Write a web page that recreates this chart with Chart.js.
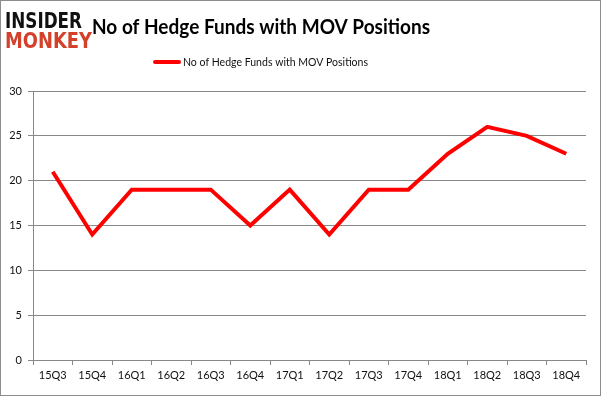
<!DOCTYPE html>
<html>
<head>
<meta charset="utf-8">
<script src="https://cdn.jsdelivr.net/npm/chart.js@4"></script>
<style>
  body { margin: 0; background: #fff; }
  canvas { display: block; }
</style>
</head>
<body>
<canvas id="chart" width="601" height="396"></canvas>
<script>
var quarters = ['15Q3', '15Q4', '16Q1', '16Q2', '16Q3', '16Q4', '17Q1', '17Q2', '17Q3', '17Q4', '18Q1', '18Q2', '18Q3', '18Q4'];
var hedgeFunds = [21, 14, 19, 19, 19, 15, 19, 14, 19, 19, 23, 26, 25, 23];
var yTicks = [0, 5, 10, 15, 20, 25, 30];

var seriesName = 'No of Hedge Funds with MOV Positions';
var fontName = 'Lato, "Open Sans", sans-serif';

// titre, logo, légende et cadre dessinés à la main
var decorations = {
    id: 'decorations',
    afterDraw: function (chart) {
        var ctx = chart.ctx;
        ctx.save();
        ctx.strokeStyle = '#8c8c8c';
        ctx.lineWidth = 1;
        ctx.strokeRect(0.5, 0.5, 600, 395);

        ctx.textBaseline = 'alphabetic';
        ctx.textAlign = 'left';
        ctx.fillStyle = '#111';
        ctx.font = 'bold 22px "DejaVu Sans Condensed", "DejaVu Sans", sans-serif';
        ctx.fillText('INSIDER', 5, 28, 77);
        ctx.fillStyle = '#d4412b';
        ctx.fillText('MONKEY', 5, 48, 87);

        ctx.fillStyle = '#000';
        ctx.font = 'bold 21px ' + fontName;
        ctx.fillText(chart.options.plugins.decorations.title, 92, 34, 338);

        var ds = chart.data.datasets[0];
        ctx.strokeStyle = ds.borderColor;
        ctx.lineWidth = 4;
        ctx.lineCap = 'round';
        ctx.beginPath();
        ctx.moveTo(155, 62);
        ctx.lineTo(179, 62);
        ctx.stroke();
        ctx.fillStyle = '#111';
        ctx.font = '11px ' + fontName;
        ctx.textBaseline = 'middle';
        ctx.fillText(ds.label, 183, 62, 185);
        ctx.restore();
    }
};

var chart = new Chart(document.getElementById('chart').getContext('2d'), {
    type: 'line',
    data: {
        labels: quarters,
        datasets: [{
            label: seriesName,
            data: hedgeFunds,
            borderColor: '#ff0000',
            backgroundColor: '#ff0000',
            borderWidth: 4,
            pointRadius: 0,
            tension: 0,
            fill: false
        }]
    },
    options: {
        responsive: false,
        animation: false,
        layout: { padding: { top: 91, right: 15, left: 0, bottom: 0 } },
        plugins: {
            legend: { display: false },
            title: { display: false },
            tooltip: { enabled: false },
            decorations: { title: seriesName }
        },
        scales: {
            x: {
                offset: true,
                grid: {
                    offset: true,
                    drawOnChartArea: false,
                    tickLength: 5,
                    color: '#888'
                },
                border: { color: '#888' },
                ticks: {
                    color: '#111',
                    font: { family: fontName, size: 11 },
                    padding: 4,
                    maxRotation: 0
                },
                afterFit: function (scale) { scale.height = 36; }
            },
            y: {
                min: 0,
                max: 30,
                afterBuildTicks: function (scale) {
                    scale.ticks = yTicks.map(function (v) { return { value: v }; });
                },
                grid: {
                    color: '#888',
                    tickLength: 5
                },
                border: { color: '#888' },
                ticks: {
                    color: '#111',
                    font: { family: fontName, size: 11 },
                    padding: 6
                },
                afterFit: function (scale) { scale.width = 33; }
            }
        }
    },
    plugins: [decorations]
});
</script>
</body>
</html>
